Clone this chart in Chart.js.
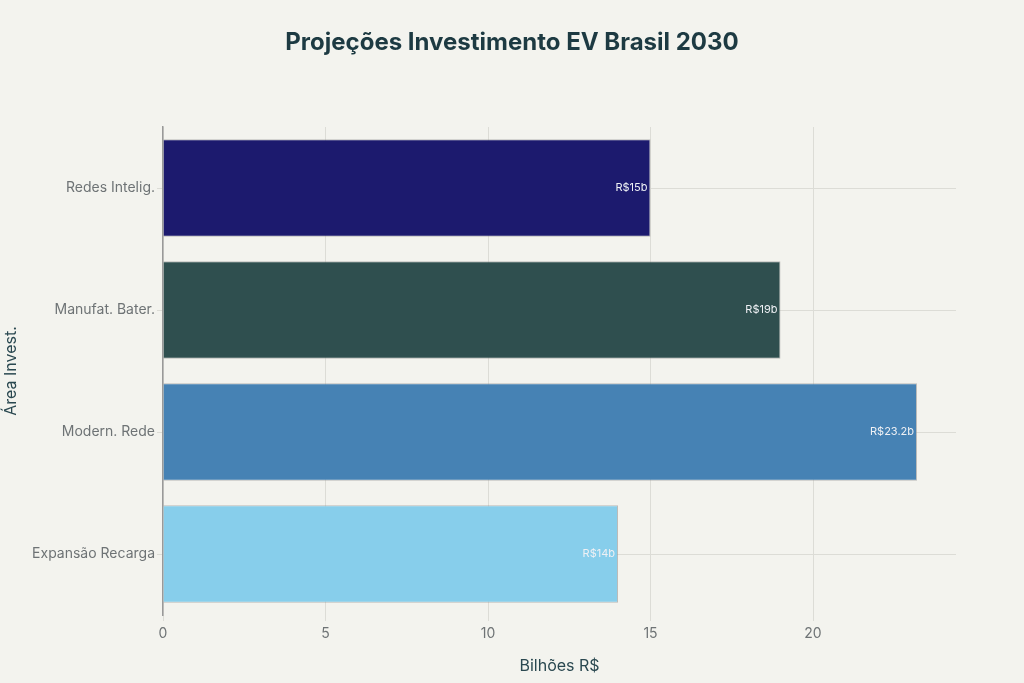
<!DOCTYPE html>
<html>
<head>
<meta charset="utf-8">
<script src="https://cdn.jsdelivr.net/npm/chart.js@4"></script>
<style>
  html, body { margin: 0; padding: 0; background: #f3f3ee; }
  #wrap { width: 1024px; height: 683px; }
</style>
</head>
<body>
<div id="wrap"><canvas id="chart" width="1024" height="683"></canvas></div>
<script>
// dados
const titulo = 'Projeções Investimento EV Brasil 2030';
const areas = ['Redes Intelig.', 'Manufat. Bater.', 'Modern. Rede', 'Expansão Recarga'];
const valores = [15, 19, 23.2, 14];
const rotulos = ['R$15b', 'R$19b', 'R$23.2b', 'R$14b'];
const cores = ['#1c1a6e', '#2f4f4f', '#4682b4', '#87ceeb'];

Chart.defaults.font.family = "Inter, 'Liberation Sans', sans-serif";

// titulo centrado na pagina inteira
const pageTitle = {
    id: 'pageTitle',
    afterDraw(chart) {
        const ctx = chart.ctx;
        ctx.save();
        ctx.font = "bold 24px Inter, 'Liberation Sans', sans-serif";
        ctx.fillStyle = '#1d3a42';
        ctx.textAlign = 'center';
        ctx.textBaseline = 'middle';
        ctx.fillText(titulo, chart.width / 2, 43);
        ctx.restore();
    }
};

// rotulos dentro da barra
const barLabels = {
    id: 'barLabels',
    afterDatasetsDraw(chart) {
        const ctx = chart.ctx;
        const meta = chart.getDatasetMeta(0);
        ctx.save();
        ctx.font = "11px Inter, 'Liberation Sans', sans-serif";
        ctx.fillStyle = '#eef0f4';
        ctx.textAlign = 'right';
        ctx.textBaseline = 'middle';
        meta.data.forEach(function (bar, i) {
            ctx.fillText(rotulos[i], bar.x - 3, bar.y);
        });
        ctx.restore();
    }
};

const ctx = document.getElementById('chart').getContext('2d');
const chart = new Chart(ctx, {
    type: 'bar',
    data: {
        labels: areas,
        datasets: [{
            data: valores,
            backgroundColor: cores,
            borderColor: 'rgba(150,150,150,0.6)',
            borderWidth: 1,
            barPercentage: 0.8,
            categoryPercentage: 1
        }]
    },
    options: {
        indexAxis: 'y',
        responsive: false,
        animation: false,
        layout: { padding: { left: 0, right: 68, top: 127, bottom: 0 } },
        plugins: {
            legend: { display: false },
            tooltip: { enabled: false },
            title: { display: false }
        },
        scales: {
            x: {
                min: 0,
                max: 24.4,
                ticks: {
                    stepSize: 5,
                    includeBounds: false,
                    color: '#6e7375',
                    font: { size: 14 },
                    padding: 4
                },
                grid: { color: '#dcdcd6', tickLength: 6 },
                border: { display: false },
                title: {
                    display: true,
                    text: 'Bilhões R$',
                    color: '#2a4850',
                    font: { size: 16 },
                    padding: { top: 0, bottom: 7 }
                },
                afterFit: function (scale) { scale.height = 68; }
            },
            y: {
                ticks: {
                    color: '#6e7375',
                    font: { size: 14 },
                    padding: 2
                },
                grid: { color: '#dcdcd6', offset: false, tickLength: 6 },
                border: { color: '#999999', width: 1.5 },
                title: {
                    display: true,
                    text: 'Área Invest.',
                    color: '#2a4850',
                    font: { size: 16 },
                    padding: { top: 2, bottom: 0 }
                },
                afterFit: function (scale) { scale.width = 163; }
            }
        }
    },
    plugins: [barLabels, pageTitle]
});
</script>
</body>
</html>
